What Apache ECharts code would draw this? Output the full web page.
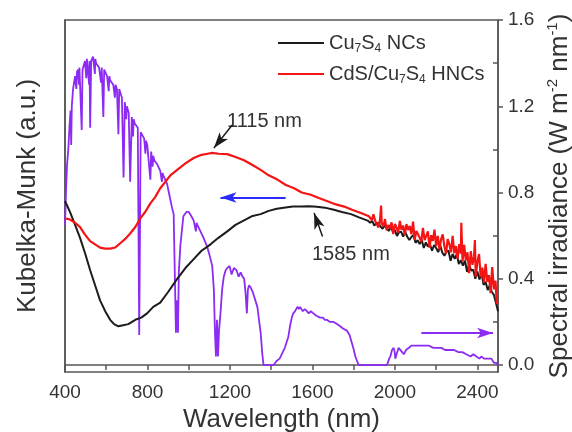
<!DOCTYPE html>
<html>
<head>
<meta charset="utf-8">
<script src="https://cdn.jsdelivr.net/npm/echarts@6/dist/echarts.min.js"></script>
<style>
  html, body { margin: 0; padding: 0; background: #fff; }
  #chart { width: 572px; height: 432px; }
</style>
</head>
<body>
<div id="chart"></div>
<script>
// 波长 (nm), Kubelka-Munk 值 (a.u.) - 从图上读出
const cu7s4 = [
  [400, 0.76], [410, 0.74], [424, 0.71], [449, 0.65], [473, 0.59], [497, 0.52], [522, 0.44],
  [546, 0.37], [570, 0.30], [595, 0.25], [619, 0.21], [638, 0.19], [659, 0.18], [682, 0.185],
  [707, 0.19], [741, 0.21], [770, 0.22], [798, 0.24], [828, 0.27], [862, 0.29], [901, 0.34],
  [944, 0.40], [984, 0.45], [1023, 0.49], [1062, 0.53], [1106, 0.56], [1144, 0.59], [1187, 0.62],
  [1227, 0.65], [1266, 0.67], [1305, 0.69], [1349, 0.70], [1388, 0.715], [1427, 0.725],
  [1461, 0.73], [1505, 0.735], [1544, 0.735], [1585, 0.737], [1621, 0.734], [1660, 0.73],
  [1704, 0.72], [1743, 0.71], [1787, 0.70], [1826, 0.685], [1868, 0.67],
  [1880, 0.660], [1890, 0.668], [1900, 0.647], [1910, 0.657], [1920, 0.659], [1930, 0.643],
  [1940, 0.632], [1950, 0.646], [1960, 0.636], [1970, 0.622], [1980, 0.641], [1990, 0.619],
  [2000, 0.626], [2010, 0.599], [2020, 0.616], [2030, 0.619], [2040, 0.596], [2050, 0.616],
  [2060, 0.595], [2070, 0.580], [2080, 0.594], [2090, 0.603], [2100, 0.567], [2110, 0.579],
  [2120, 0.561], [2130, 0.581], [2140, 0.543], [2150, 0.569], [2160, 0.550], [2170, 0.560],
  [2180, 0.530], [2190, 0.557], [2200, 0.543], [2210, 0.524], [2220, 0.554], [2230, 0.521],
  [2240, 0.507], [2250, 0.527], [2260, 0.530], [2270, 0.484], [2280, 0.515], [2290, 0.493],
  [2300, 0.514], [2310, 0.469], [2320, 0.486], [2330, 0.461], [2340, 0.484], [2350, 0.432],
  [2360, 0.465], [2370, 0.438], [2380, 0.442], [2390, 0.400], [2400, 0.434], [2410, 0.397],
  [2420, 0.429], [2430, 0.372], [2440, 0.386], [2450, 0.348], [2460, 0.370], [2470, 0.339],
  [2480, 0.326], [2490, 0.289], [2500, 0.25]
]

const cdsCu7s4 = [
  [400, 0.68], [424, 0.675], [449, 0.66], [473, 0.64], [497, 0.605], [522, 0.575], [546, 0.56],
  [570, 0.545], [595, 0.54], [619, 0.54], [643, 0.545], [668, 0.565], [692, 0.585], [716, 0.61],
  [741, 0.64], [765, 0.68], [789, 0.71], [814, 0.75], [838, 0.78], [862, 0.82], [887, 0.85],
  [911, 0.88], [944, 0.905], [984, 0.935], [1024, 0.96], [1062, 0.975], [1091, 0.98],
  [1115, 0.984], [1144, 0.98], [1187, 0.978], [1227, 0.965], [1268, 0.95], [1305, 0.93],
  [1349, 0.905], [1388, 0.88], [1430, 0.86], [1471, 0.835], [1511, 0.82], [1548, 0.80],
  [1592, 0.79], [1631, 0.775], [1673, 0.76], [1714, 0.745], [1754, 0.735], [1792, 0.72],
  [1835, 0.705], [1874, 0.69],
  [1880, 0.698], [1888, 0.672], [1896, 0.699], [1904, 0.669], [1912, 0.678], [1920, 0.638],
  [1928, 0.675], [1933, 0.74], [1936, 0.658], [1944, 0.642], [1952, 0.677], [1960, 0.625],
  [1968, 0.649], [1976, 0.634], [1984, 0.662], [1992, 0.607], [2000, 0.655], [2008, 0.637],
  [2016, 0.614], [2024, 0.668], [2032, 0.627], [2040, 0.647], [2048, 0.603], [2056, 0.654],
  [2064, 0.626], [2072, 0.645], [2080, 0.607], [2088, 0.665], [2096, 0.580], [2104, 0.622],
  [2112, 0.631], [2120, 0.591], [2128, 0.572], [2136, 0.636], [2144, 0.579], [2152, 0.599],
  [2160, 0.620], [2168, 0.544], [2176, 0.602], [2184, 0.576], [2192, 0.628], [2200, 0.552],
  [2208, 0.599], [2216, 0.536], [2224, 0.583], [2232, 0.606], [2240, 0.551], [2248, 0.517],
  [2256, 0.584], [2264, 0.560], [2272, 0.523], [2280, 0.599], [2288, 0.519], [2296, 0.552],
  [2304, 0.492], [2312, 0.561], [2320, 0.517], [2322, 0.66], [2328, 0.480], [2336, 0.558],
  [2344, 0.485], [2352, 0.523], [2360, 0.426], [2368, 0.528], [2376, 0.465], [2384, 0.505],
  [2388, 0.58], [2392, 0.410], [2400, 0.478], [2408, 0.515], [2416, 0.409], [2424, 0.452],
  [2432, 0.382], [2440, 0.469], [2448, 0.387], [2456, 0.417], [2464, 0.333], [2472, 0.455],
  [2480, 0.351], [2488, 0.391], [2494, 0.285], [2500, 0.29]
]

// 太阳光谱辐照度 (W m^-2 nm^-1)
const solar = [
  [400, 0.65], [405, 0.81], [410, 0.93], [416, 1.00], [422, 1.11], [427, 1.18], [430, 1.02],
  [433, 1.20], [439, 1.28], [449, 1.34], [455, 1.28], [458, 1.36], [463, 1.37], [468, 1.30],
  [470, 1.38], [473, 1.38], [481, 1.09], [485, 1.37], [497, 1.41], [503, 1.33], [506, 1.42],
  [512, 1.42], [517, 1.30], [519, 1.41], [522, 1.10], [527, 1.41], [536, 1.43], [545, 1.35],
  [547, 1.42], [551, 1.40], [565, 1.38], [575, 1.31], [578, 1.38], [586, 1.15], [590, 1.37],
  [604, 1.34], [612, 1.27], [615, 1.34], [619, 1.32], [634, 1.30], [642, 1.24], [645, 1.30],
  [652, 1.28], [659, 1.07], [663, 1.28], [676, 1.24], [684, 0.87], [690, 1.22], [697, 1.14],
  [700, 1.20], [709, 1.17], [716, 0.85], [724, 1.15], [730, 1.06], [733, 1.14], [738, 1.12],
  [753, 1.10], [760, 0.14], [767, 1.08], [784, 1.05], [790, 0.98], [793, 1.04], [799, 1.02],
  [814, 0.86], [818, 0.99], [825, 0.92], [828, 0.97], [833, 0.95], [848, 0.93], [862, 0.90],
  [870, 0.85], [873, 0.89], [877, 0.88], [895, 0.84], [906, 0.79], [919, 0.73], [927, 0.70],
  [933, 0.40], [938, 0.15], [943, 0.30], [948, 0.15], [952, 0.43], [960, 0.56], [974, 0.69],
  [989, 0.71], [1000, 0.71], [1013, 0.69], [1024, 0.67], [1035, 0.62], [1038, 0.66],
  [1042, 0.65], [1057, 0.62], [1072, 0.59], [1089, 0.55], [1101, 0.51], [1114, 0.46],
  [1122, 0.35], [1127, 0.16], [1132, 0.04], [1137, 0.21], [1142, 0.04], [1147, 0.16],
  [1154, 0.24], [1162, 0.35], [1170, 0.41], [1179, 0.44], [1187, 0.45], [1198, 0.46],
  [1208, 0.42], [1219, 0.45], [1232, 0.44], [1242, 0.41], [1252, 0.43], [1261, 0.41],
  [1269, 0.40], [1276, 0.33], [1282, 0.24], [1287, 0.35], [1293, 0.37], [1300, 0.36],
  [1310, 0.34], [1320, 0.31], [1333, 0.27], [1341, 0.21], [1349, 0.15], [1357, 0.05],
  [1363, 0.00], [1412, 0.00], [1427, 0.02], [1441, 0.03], [1456, 0.06], [1466, 0.08],
  [1475, 0.08], [1483, 0.13], [1491, 0.18], [1500, 0.22], [1507, 0.24], [1516, 0.25],
  [1527, 0.27], [1534, 0.26], [1540, 0.27], [1553, 0.25], [1563, 0.26], [1573, 0.25],
  [1582, 0.24], [1592, 0.25], [1605, 0.24], [1617, 0.23], [1626, 0.23], [1637, 0.22],
  [1651, 0.22], [1660, 0.21], [1670, 0.21], [1685, 0.20], [1703, 0.20], [1719, 0.19],
  [1735, 0.18], [1748, 0.17], [1767, 0.16], [1780, 0.14], [1792, 0.10], [1801, 0.07],
  [1808, 0.04], [1816, 0.02], [1824, 0.00], [1962, 0.00], [1972, 0.03], [1978, 0.04],
  [1986, 0.07], [1994, 0.08], [1999, 0.06], [2002, 0.03], [2008, 0.05], [2018, 0.08],
  [2027, 0.08], [2035, 0.06], [2043, 0.05], [2054, 0.07], [2068, 0.08], [2079, 0.09],
  [2092, 0.09], [2108, 0.09], [2124, 0.09], [2147, 0.09], [2166, 0.09], [2186, 0.08],
  [2205, 0.08], [2225, 0.08], [2244, 0.07], [2264, 0.07], [2287, 0.07], [2308, 0.06],
  [2327, 0.06], [2346, 0.05], [2367, 0.04], [2380, 0.05], [2395, 0.04], [2410, 0.03],
  [2419, 0.04], [2432, 0.03], [2448, 0.03], [2458, 0.03], [2468, 0.03], [2481, 0.01],
  [2492, 0.01], [2500, 0.00]
]

const xLabels = [400, 800, 1200, 1600, 2000, 2400]
const xTicks = [400, 600, 800, 1000, 1200, 1400, 1600, 1800, 2000, 2200, 2400]
const yLabels = [0, 0.4, 0.8, 1.2, 1.6]
const yMinorTicks = [0.2, 0.6, 1.0, 1.4]

const COLORS = {
  black: '#1c1c1c',
  red: '#f51414',
  purple: '#8c2bf2',
  blue: '#2a2aff',
  axis: '#555555',
  text: '#333333',
}
const FONT = '"Liberation Sans", Arial, sans-serif'

const chart = echarts.init(document.getElementById('chart'), null, { renderer: 'canvas' })

const legendRich = {
  a: { fontSize: 20, fontFamily: FONT, color: COLORS.text, lineHeight: 24 },
  s: { fontSize: 12, fontFamily: FONT, color: COLORS.text, lineHeight: 12, verticalAlign: 'bottom' },
}
const legendNames = {
  'Cu7S4 NCs': '{a|Cu}{s|7}{a|S}{s|4}{a| NCs}',
  'CdS/Cu7S4 HNCs': '{a|CdS/Cu}{s|7}{a|S}{s|4}{a| HNCs}',
}

const arrow = (from, to, color, width, size) => [
  { coord: from, lineStyle: { color: color, width: width, type: 'solid' }, symbolSize: size },
  { coord: to },
]

chart.setOption({
  animation: false,
  backgroundColor: '#fff',
  grid: {
    left: 65, right: 74, top: 20, bottom: 60,
    outerBoundsMode: 'none',
    containLabel: false,
    show: true, borderColor: COLORS.axis, borderWidth: 1.5,
  },
  legend: {
    orient: 'vertical',
    left: 273,
    top: 28,
    itemWidth: 46,
    itemHeight: 2,
    itemGap: 9,
    icon: 'rect',
    data: ['Cu7S4 NCs', 'CdS/Cu7S4 HNCs'],
    formatter: (name) => legendNames[name],
    textStyle: { rich: legendRich },
  },
  xAxis: {
    type: 'value',
    min: 400,
    max: 2500,
    name: 'Wavelength (nm)',
    nameLocation: 'middle',
    nameGap: 33,
    nameTextStyle: { fontSize: 26, fontFamily: FONT, color: COLORS.text },
    axisLine: { lineStyle: { color: COLORS.axis, width: 1.5 } },
    axisTick: { customValues: xTicks, length: 5, lineStyle: { color: COLORS.axis, width: 1.5 } },
    axisLabel: {
      customValues: xLabels, fontSize: 19, fontFamily: FONT, color: COLORS.text, margin: 11,
      formatter: (v) => String(v),
    },
    splitLine: { show: false },
  },
  yAxis: [
    {
      type: 'value',
      min: -0.032,
      max: 1.6,
      position: 'left',
      name: 'Kubelka-Munk (a.u.)',
      nameLocation: 'middle',
      nameRotate: 90,
      nameGap: 24,
      nameTextStyle: { fontSize: 26, fontFamily: FONT, color: COLORS.text },
      axisLine: { show: true, lineStyle: { color: COLORS.axis, width: 1.5 } },
      axisTick: { show: false },
      axisLabel: { show: false },
      splitLine: { show: false },
    },
    {
      type: 'value',
      min: -0.032,
      max: 1.6,
      position: 'right',
      name: '{a|Spectral irradiance (W m}{p|-2}{a| nm}{p|-1}{a|)}',
      nameLocation: 'middle',
      nameRotate: 90,
      nameGap: 46,
      nameTextStyle: {
        rich: {
          a: { fontSize: 26, fontFamily: FONT, color: COLORS.text, lineHeight: 30 },
          p: { fontSize: 15, fontFamily: FONT, color: COLORS.text, lineHeight: 15, verticalAlign: 'top' },
        },
      },
      axisLine: { show: true, lineStyle: { color: COLORS.axis, width: 1.5 } },
      axisTick: { customValues: yLabels, length: 5, lineStyle: { color: COLORS.axis, width: 1.5 } },
      axisLabel: {
        customValues: yLabels, fontSize: 19, fontFamily: FONT, color: COLORS.text, margin: 10,
        formatter: (v) => v.toFixed(1),
      },
      splitLine: { show: false },
    },
    {
      // 右轴的次刻度 (朝内)
      type: 'value',
      min: -0.032,
      max: 1.6,
      position: 'right',
      axisLine: { show: false },
      axisTick: { show: true, inside: true, customValues: yMinorTicks, length: 5, lineStyle: { color: COLORS.axis, width: 1.5 } },
      axisLabel: { show: false },
      splitLine: { show: false },
    },
  ],
  series: [
    {
      name: 'Solar',
      type: 'line',
      yAxisIndex: 1,
      data: solar,
      showSymbol: false,
      symbol: 'none',
      lineStyle: { color: COLORS.purple, width: 1.8 },
      z: 1,
      markLine: {
        silent: true,
        animation: false,
        label: { show: false },
        symbol: ['none', 'arrow'],
        data: [
          arrow([1211, 1.113], [1122, 1.006], COLORS.black, 1.5, [7, 9]),
          arrow([1649, 0.596], [1608, 0.705], COLORS.black, 1.5, [7, 9]),
          arrow([1470, 0.777], [1154, 0.777], COLORS.blue, 2, [9, 11]),
          arrow([2128, 0.149], [2476, 0.149], COLORS.purple, 2, [9, 11]),
        ],
      },
    },
    {
      name: 'Cu7S4 NCs',
      type: 'line',
      yAxisIndex: 0,
      data: cu7s4,
      showSymbol: false,
      symbol: 'none',
      lineStyle: { color: COLORS.black, width: 2 },
      itemStyle: { color: COLORS.black },
      z: 2,
    },
    {
      name: 'CdS/Cu7S4 HNCs',
      type: 'line',
      yAxisIndex: 0,
      data: cdsCu7s4,
      showSymbol: false,
      symbol: 'none',
      lineStyle: { color: COLORS.red, width: 2.2 },
      itemStyle: { color: COLORS.red },
      z: 3,
    },
  ],
  graphic: [
    { type: 'text', left: 227, top: 111, style: { text: '1115 nm', fontSize: 20, fontFamily: FONT, fill: COLORS.text } },
    { type: 'text', left: 312, top: 244, style: { text: '1585 nm', fontSize: 20, fontFamily: FONT, fill: COLORS.text } },
  ],
})
</script>
</body>
</html>
